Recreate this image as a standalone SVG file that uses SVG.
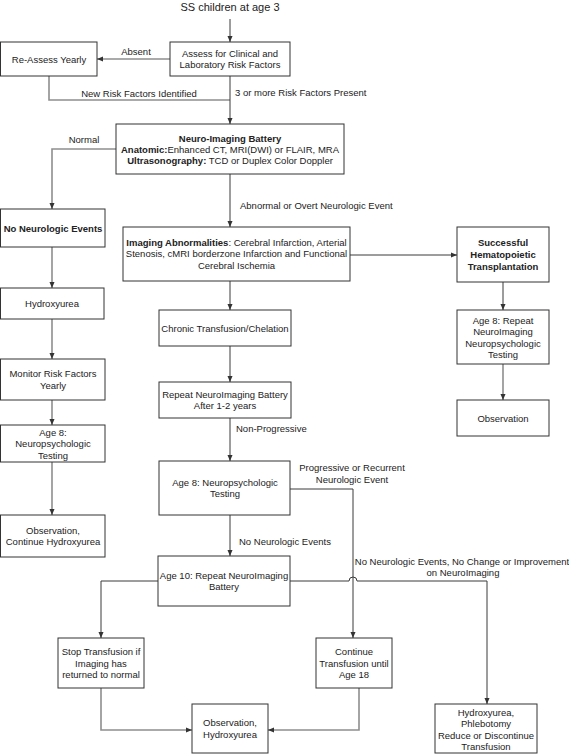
<svg xmlns="http://www.w3.org/2000/svg" width="569" height="755" viewBox="0 0 569 755">
<style>
text{font-family:"Liberation Sans",Arial,sans-serif;font-size:9.5px;fill:#222;text-anchor:middle}
.st{text-anchor:start}
.b{font-weight:bold}
.title{font-size:11px}
.box{fill:#fff;stroke:#333;stroke-width:1}
.dk{fill:none;stroke:#3a3a3a;stroke-width:1}
.gy{fill:none;stroke:#8e8e8e;stroke-width:1.6}
</style>
<defs>
<marker id="ah" viewBox="0 0 10 10" refX="10" refY="5" markerWidth="6" markerHeight="6" markerUnits="userSpaceOnUse" orient="auto">
<path d="M0,0.8 L10,5 L0,9.2 z" fill="#333"/>
</marker>
</defs>
<rect width="569" height="755" fill="#fff"/>

<g id="connectors">
<path class="dk" d="M230,19 V42" marker-end="url(#ah)"/>
<path class="gy" d="M170,59 H97" marker-end="url(#ah)"/>
<path class="gy" d="M49,76 V100 H230"/>
<path class="dk" d="M230,76 V124" marker-end="url(#ah)"/>
<path class="gy" d="M116,149 H52 V209" marker-end="url(#ah)"/>
<path class="dk" d="M230,174 V227" marker-end="url(#ah)"/>
<path class="dk" d="M350,255 H457" marker-end="url(#ah)"/>
<path class="dk" d="M230,281 V310" marker-end="url(#ah)"/>
<path class="dk" d="M230,346 V382" marker-end="url(#ah)"/>
<path class="dk" d="M230,418 V461" marker-end="url(#ah)"/>
<path class="dk" d="M230,515 V556" marker-end="url(#ah)"/>
<path class="dk" d="M290,489 H353 V638" marker-end="url(#ah)"/>
<path class="dk" d="M158,581 H101 V638" marker-end="url(#ah)"/>
<path class="dk" d="M290,581 H349 A4,4 0 0 1 357,581 H487 V704" marker-end="url(#ah)"/>
<path class="gy" d="M101,688 V730 H192" marker-end="url(#ah)"/>
<path class="gy" d="M359,688 V730 H268" marker-end="url(#ah)"/>
<path class="dk" d="M503,282 V310" marker-end="url(#ah)"/>
<path class="gy" d="M503,364 V400" marker-end="url(#ah)"/>
<path class="gy" d="M52,247 V288" marker-end="url(#ah)"/>
<path class="gy" d="M52,319 V359" marker-end="url(#ah)"/>
<path class="gy" d="M52,400 V425" marker-end="url(#ah)"/>
<path class="gy" d="M52,462 V515" marker-end="url(#ah)"/>
</g>

<g id="labels">
<text class="title" x="230" y="11">SS children at age 3</text>
<text x="136" y="55">Absent</text>
<text x="139" y="97">New Risk Factors Identified</text>
<text class="st" x="235" y="96">3 or more Risk Factors Present</text>
<text x="84" y="143">Normal</text>
<text class="st" x="240" y="209">Abnormal or Overt Neurologic Event</text>
<text class="st" x="236" y="432">Non-Progressive</text>
<text x="352" y="471">Progressive or Recurrent</text>
<text x="352" y="483">Neurologic Event</text>
<text class="st" x="239" y="545">No Neurologic Events</text>
<text x="462" y="565">No Neurologic Events, No Change or Improvement</text>
<text x="463" y="576">on NeuroImaging</text>
</g>

<g id="n-reassess">
<rect class="box" x="0.5" y="42" width="96.5" height="34"/>
<text x="49" y="62.5">Re-Assess Yearly</text>
</g>
<g id="n-assess">
<rect class="box" x="170" y="42" width="120" height="34"/>
<text x="230" y="56.5">Assess for Clinical and</text>
<text x="230" y="68">Laboratory Risk Factors</text>
</g>
<g id="n-neuro">
<rect class="box" x="116" y="124" width="228" height="50"/>
<text x="230" y="141.5" class="b">Neuro-Imaging Battery</text>
<text x="230" y="152.5"><tspan class="b">Anatomic:</tspan>Enhanced CT, MRI(DWI) or FLAIR, MRA</text>
<text x="230" y="163.5"><tspan class="b">Ultrasonography:</tspan> TCD or Duplex Color Doppler</text>
</g>
<g id="n-imaging">
<rect class="box" x="123" y="227" width="227" height="54"/>
<text x="236.5" y="245.5"><tspan class="b">Imaging Abnormalities</tspan>: Cerebral Infarction, Arterial</text>
<text x="236.5" y="257">Stenosis, cMRI borderzone Infarction and Functional</text>
<text x="236.5" y="268.5">Cerebral Ischemia</text>
</g>
<g id="n-successful">
<rect class="box" x="457" y="227" width="92" height="55"/>
<text x="503" y="246" class="b">Successful</text>
<text x="503" y="258" class="b">Hematopoietic</text>
<text x="503" y="270" class="b">Transplantation</text>
</g>
<g id="n-age8repeat">
<rect class="box" x="457" y="310" width="92" height="54"/>
<text x="503" y="323.5">Age 8: Repeat</text>
<text x="503" y="335">NeuroImaging</text>
<text x="503" y="346.5">Neuropsychologic</text>
<text x="503" y="358">Testing</text>
</g>
<g id="n-observation-right">
<rect class="box" x="457" y="400" width="92" height="36"/>
<text x="503" y="421.5">Observation</text>
</g>
<g id="n-noevents">
<rect class="box" x="0.5" y="209" width="104.5" height="38"/>
<text x="53" y="231.5" class="b">No Neurologic Events</text>
</g>
<g id="n-hydroxyurea-left">
<rect class="box" x="0.5" y="288" width="103.5" height="31"/>
<text x="52" y="307">Hydroxyurea</text>
</g>
<g id="n-monitor">
<rect class="box" x="0.5" y="359" width="104.5" height="41"/>
<text x="53" y="377">Monitor Risk Factors</text>
<text x="53" y="388.5">Yearly</text>
</g>
<g id="n-age8-left">
<rect class="box" x="0.5" y="425" width="104.5" height="37"/>
<text x="53" y="435.5">Age 8:</text>
<text x="53" y="447">Neuropsychologic</text>
<text x="53" y="458.5">Testing</text>
</g>
<g id="n-observation-left">
<rect class="box" x="0.5" y="515" width="104.5" height="42"/>
<text x="53" y="533.5">Observation,</text>
<text x="53" y="545">Continue Hydroxyurea</text>
</g>
<g id="n-chronic">
<rect class="box" x="159" y="310" width="132" height="36"/>
<text x="225" y="331.5">Chronic Transfusion/Chelation</text>
</g>
<g id="n-repeat">
<rect class="box" x="159" y="382" width="132" height="36"/>
<text x="225" y="397.5">Repeat NeuroImaging Battery</text>
<text x="225" y="409">After 1-2 years</text>
</g>
<g id="n-age8-mid">
<rect class="box" x="159" y="461" width="131" height="54"/>
<text x="225" y="485.5">Age 8: Neuropsychologic</text>
<text x="225" y="497">Testing</text>
</g>
<g id="n-age10">
<rect class="box" x="158" y="556" width="132" height="50"/>
<text x="224" y="578.5">Age 10: Repeat NeuroImaging</text>
<text x="224" y="590">Battery</text>
</g>
<g id="n-stop">
<rect class="box" x="58" y="638" width="86" height="50"/>
<text x="101" y="655">Stop Transfusion if</text>
<text x="101" y="666.5">Imaging has</text>
<text x="101" y="678">returned to normal</text>
</g>
<g id="n-continue">
<rect class="box" x="316" y="638" width="76" height="50"/>
<text x="354" y="655">Continue</text>
<text x="354" y="666.5">Transfusion until</text>
<text x="354" y="678">Age 18</text>
</g>
<g id="n-observation-hydroxyurea">
<rect class="box" x="192" y="704" width="76" height="49"/>
<text x="230" y="726">Observation,</text>
<text x="230" y="737.5">Hydroxyurea</text>
</g>
<g id="n-phlebotomy">
<rect class="box" x="435" y="704" width="102" height="49"/>
<text x="486" y="715.5">Hydroxyurea,</text>
<text x="486" y="727">Phlebotomy</text>
<text x="486" y="738.5">Reduce or Discontinue</text>
<text x="486" y="750">Transfusion</text>
</g>
</svg>
